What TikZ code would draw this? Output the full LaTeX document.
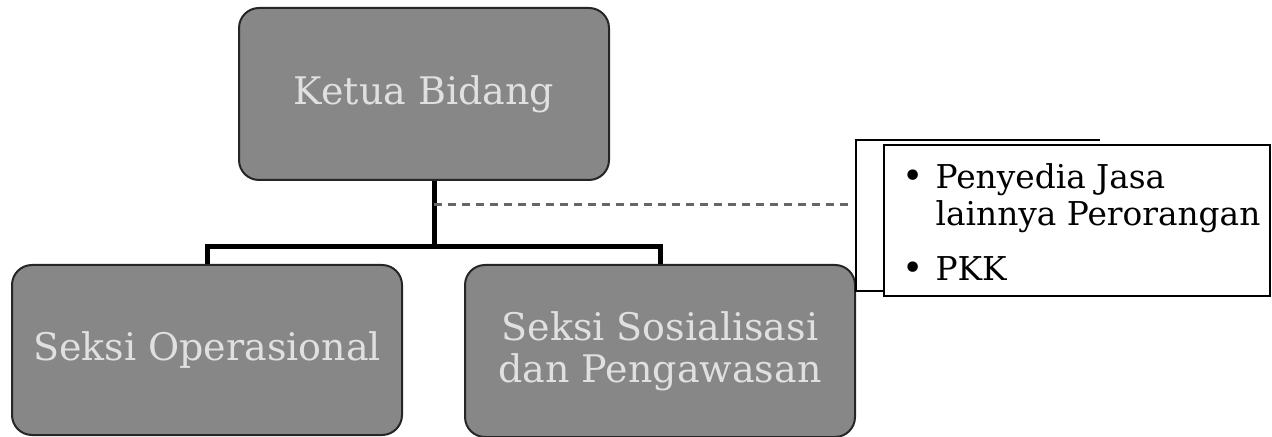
\documentclass[tikz,border=0pt]{standalone}
\usepackage{fontspec}
\setmainfont{DejaVu Serif}
\usepackage{tikz}

\begin{document}
\begin{tikzpicture}[x=0.5pt,y=-0.5pt]
        \useasboundingbox (0,0) rectangle (1272,437);
        \begin{scope}[every node/.style={draw=black!85, line width=1pt, fill=black!47, text=black!12, rounded corners=10pt, align=center, font=\fontsize{19}{21}\selectfont}]
                \node[minimum width=185pt, minimum height=86pt] (ketua) at (424,94) {Ketua Bidang};
                \node[minimum width=195pt, minimum height=85pt] (ops) at (207,350) {Seksi Operasional};
                \node[minimum width=195pt, minimum height=86pt] (sos) at (660,351) {Seksi Sosialisasi\\dan Pengawasan};
        \end{scope}
        \node[draw, line width=0.8pt, minimum width=193pt, minimum height=75.5pt, inner sep=0pt] (list) at (1077,220.5) {};
        \node[anchor=north west, inner sep=0pt, font=\fontsize{16.4}{18.5}\selectfont, align=left] (items) at (902,162)
                {\begin{tabular}{@{}l@{\hspace{6pt}}l@{}}{\fontsize{18}{18.5}\selectfont\textbullet} & Penyedia Jasa\\ & lainnya Perorangan\\[9pt] {\fontsize{18}{18.5}\selectfont\textbullet} & PKK\end{tabular}};

        \coordinate (fork) at (434,247);
        \coordinate (dashend) at (850,205);
        \coordinate (brtop) at (1100,140);
        \coordinate (brbot) at (856,291);
        \begin{scope}[every path/.style={line width=2.5pt}]
                \draw (fork |- ketua.south) -- (fork);
                \draw (fork) -| (ops.north);
                \draw (fork) -| (sos.north);
        \end{scope}
        \draw[black!60, line width=1.5pt, dash pattern=on 4pt off 3pt] (fork |- dashend) -- (dashend);
        \draw[line width=0.8pt] (brtop) -| (brbot) -- (brbot -| list.west);
\end{tikzpicture}
\end{document}
